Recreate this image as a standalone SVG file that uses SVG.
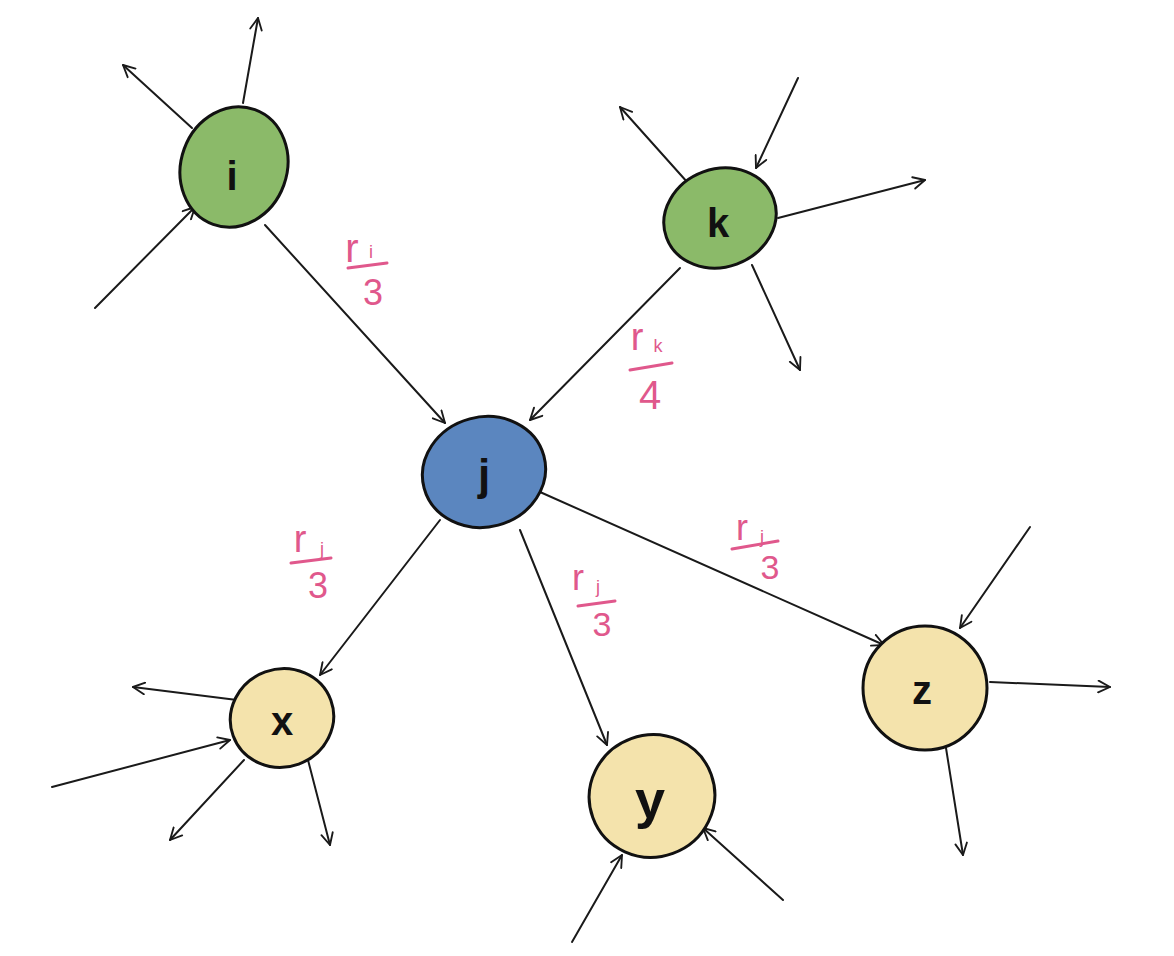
<svg xmlns="http://www.w3.org/2000/svg" width="1174" height="956" viewBox="0 0 1174 956">
<defs>
<marker id="ah" viewBox="0 0 12 12" refX="11" refY="6" markerWidth="14" markerHeight="14" markerUnits="userSpaceOnUse" orient="auto">
<path d="M1,1 L11,6 L1,11" fill="none" stroke="#1a1a1a" stroke-width="1.6" stroke-linecap="round" stroke-linejoin="round"/>
</marker>
<style>
.e{fill:none;stroke:#1a1a1a;stroke-width:2;stroke-linecap:round;marker-end:url(#ah)}
.n{stroke:#111;stroke-width:3}
.g{fill:#8bba69}.b{fill:#5b86bf}.y{fill:#f4e3ac}
.t{font-family:"Liberation Sans",Arial,sans-serif;font-weight:bold;fill:#111;text-anchor:middle}
.p{font-family:"Liberation Sans",Arial,sans-serif;fill:#e0588c;text-anchor:middle}
.bar{stroke:#e0588c;stroke-width:3;stroke-linecap:round}
</style>
</defs>
<rect width="1174" height="956" fill="#fff"/>
<g id="connectors">
<line class="e" x1="192" y1="128" x2="123" y2="65"/>
<line class="e" x1="243" y1="103" x2="258" y2="18"/>
<line class="e" x1="95" y1="308" x2="195" y2="207"/>
<line class="e" x1="265" y1="225" x2="445" y2="423"/>
<line class="e" x1="688" y1="183" x2="620" y2="107"/>
<line class="e" x1="798" y1="78" x2="756" y2="168"/>
<line class="e" x1="778" y1="218" x2="925" y2="180"/>
<line class="e" x1="752" y1="265" x2="800" y2="370"/>
<line class="e" x1="680" y1="268" x2="530" y2="420"/>
<line class="e" x1="440" y1="520" x2="320" y2="675"/>
<line class="e" x1="520" y1="530" x2="607" y2="745"/>
<line class="e" x1="540" y1="492" x2="884" y2="645"/>
<line class="e" x1="237" y1="700" x2="133" y2="687"/>
<line class="e" x1="52" y1="787" x2="230" y2="740"/>
<line class="e" x1="244" y1="760" x2="170" y2="840"/>
<line class="e" x1="308" y1="760" x2="330" y2="845"/>
<line class="e" x1="572" y1="942" x2="622" y2="855"/>
<line class="e" x1="783" y1="900" x2="703" y2="828"/>
<line class="e" x1="1030" y1="527" x2="960" y2="628"/>
<line class="e" x1="990" y1="682" x2="1110" y2="687"/>
<line class="e" x1="946" y1="748" x2="963" y2="855"/>
</g>
<g id="node-i"><ellipse class="n g" cx="234" cy="167" rx="53" ry="61" transform="rotate(20 234 167)"/><text class="t" x="232" y="190" font-size="40">i</text></g>
<g id="node-k"><ellipse class="n g" cx="720" cy="218" rx="57" ry="49" transform="rotate(-20 720 218)"/><text class="t" x="718" y="237" font-size="40">k</text></g>
<g id="node-j"><ellipse class="n b" cx="484" cy="472" rx="62" ry="55" transform="rotate(-15 484 472)"/><text class="t" x="484" y="490" font-size="44">j</text></g>
<g id="node-x"><ellipse class="n y" cx="282" cy="718" rx="52" ry="49" transform="rotate(-20 282 718)"/><text class="t" x="282" y="735" font-size="40">x</text></g>
<g id="node-y"><ellipse class="n y" cx="652" cy="796" rx="63" ry="61" transform="rotate(-20 652 796)"/><text class="t" x="650" y="818" font-size="54">y</text></g>
<g id="node-z"><ellipse class="n y" cx="925" cy="688" rx="62" ry="62"/><text class="t" x="922" y="704" font-size="40">z</text></g>
<g id="labels">
<text class="p" x="352" y="262" font-size="40">r</text><text class="p" x="371" y="258" font-size="18">i</text>
<line class="bar" x1="348" y1="268" x2="387" y2="263"/>
<text class="p" x="373" y="305" font-size="36">3</text>
<text class="p" x="637" y="350" font-size="38">r</text><text class="p" x="658" y="352" font-size="18">k</text>
<line class="bar" x1="630" y1="370" x2="672" y2="363"/>
<text class="p" x="650" y="409" font-size="40">4</text>
<text class="p" x="300" y="552" font-size="38">r</text><text class="p" x="322" y="555" font-size="18">j</text>
<line class="bar" x1="291" y1="563" x2="331" y2="558"/>
<text class="p" x="318" y="598" font-size="36">3</text>
<text class="p" x="578" y="590" font-size="36">r</text><text class="p" x="598" y="593" font-size="18">j</text>
<line class="bar" x1="578" y1="606" x2="615" y2="601"/>
<text class="p" x="602" y="636" font-size="34">3</text>
<text class="p" x="742" y="540" font-size="36">r</text><text class="p" x="762" y="543" font-size="18">j</text>
<line class="bar" x1="732" y1="549" x2="778" y2="541"/>
<text class="p" x="770" y="579" font-size="34">3</text>
</g>
</svg>
